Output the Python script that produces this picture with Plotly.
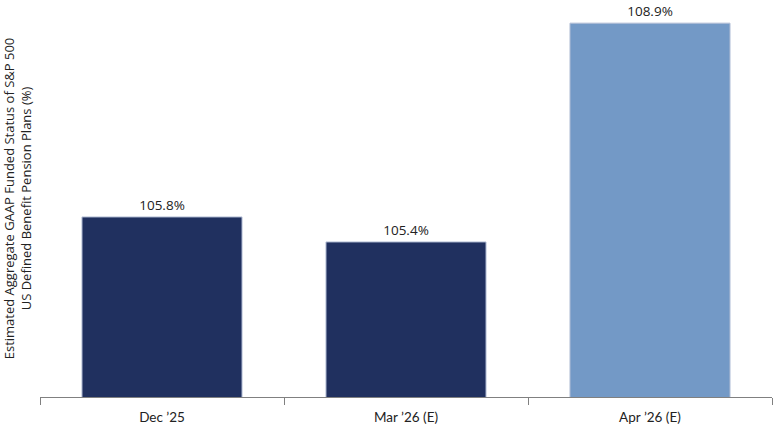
import plotly.graph_objects as go

categories = ["Dec \u201925", "Mar \u201926 (E)", "Apr \u201926 (E)"]
values = [105.8, 105.4, 108.9]
labels = ["105.8%", "105.4%", "108.9%"]
colors = ["#20305f", "#20305f", "#7399c6"]

fig = go.Figure(go.Bar(
    x=categories, y=values,
    marker=dict(color=colors, line=dict(color="#b4bfd6", width=1)),
    text=labels, textposition="outside", cliponaxis=False,
    textfont=dict(family="Open Sans", size=13.5, color="#222"),
    width=0.656,
    hoverinfo="skip",
))

fig.update_layout(
    width=773, height=426,
    margin=dict(l=40, r=1, t=0, b=29),
    plot_bgcolor="white", paper_bgcolor="white",
    showlegend=False,
    font=dict(family="Open Sans", color="#222"),
    xaxis=dict(
        automargin=False,
        showline=True, linecolor="#808080", linewidth=1,
        ticks="outside", tickson="boundaries", ticklen=7, tickcolor="#808080",
        tickfont=dict(family="Lato", size=13.5, color="#222"),
        ticklabelstandoff=8,
        showgrid=False,
    ),
    yaxis=dict(
        automargin=False,
        range=[102.92, 109.27], showticklabels=False, showgrid=False,
        zeroline=False, showline=False, ticks="",
        title=dict(text="Estimated Aggregate GAAP Funded Status of S&P 500<br>US Defined Benefit Pension Plans (%)",
                   font=dict(family="Open Sans", size=13, color="#222"), standoff=10),
    ),
)

fig.write_html("out.html", config={"displayModeBar": False},
               post_script="document.body.style.margin='0';")
